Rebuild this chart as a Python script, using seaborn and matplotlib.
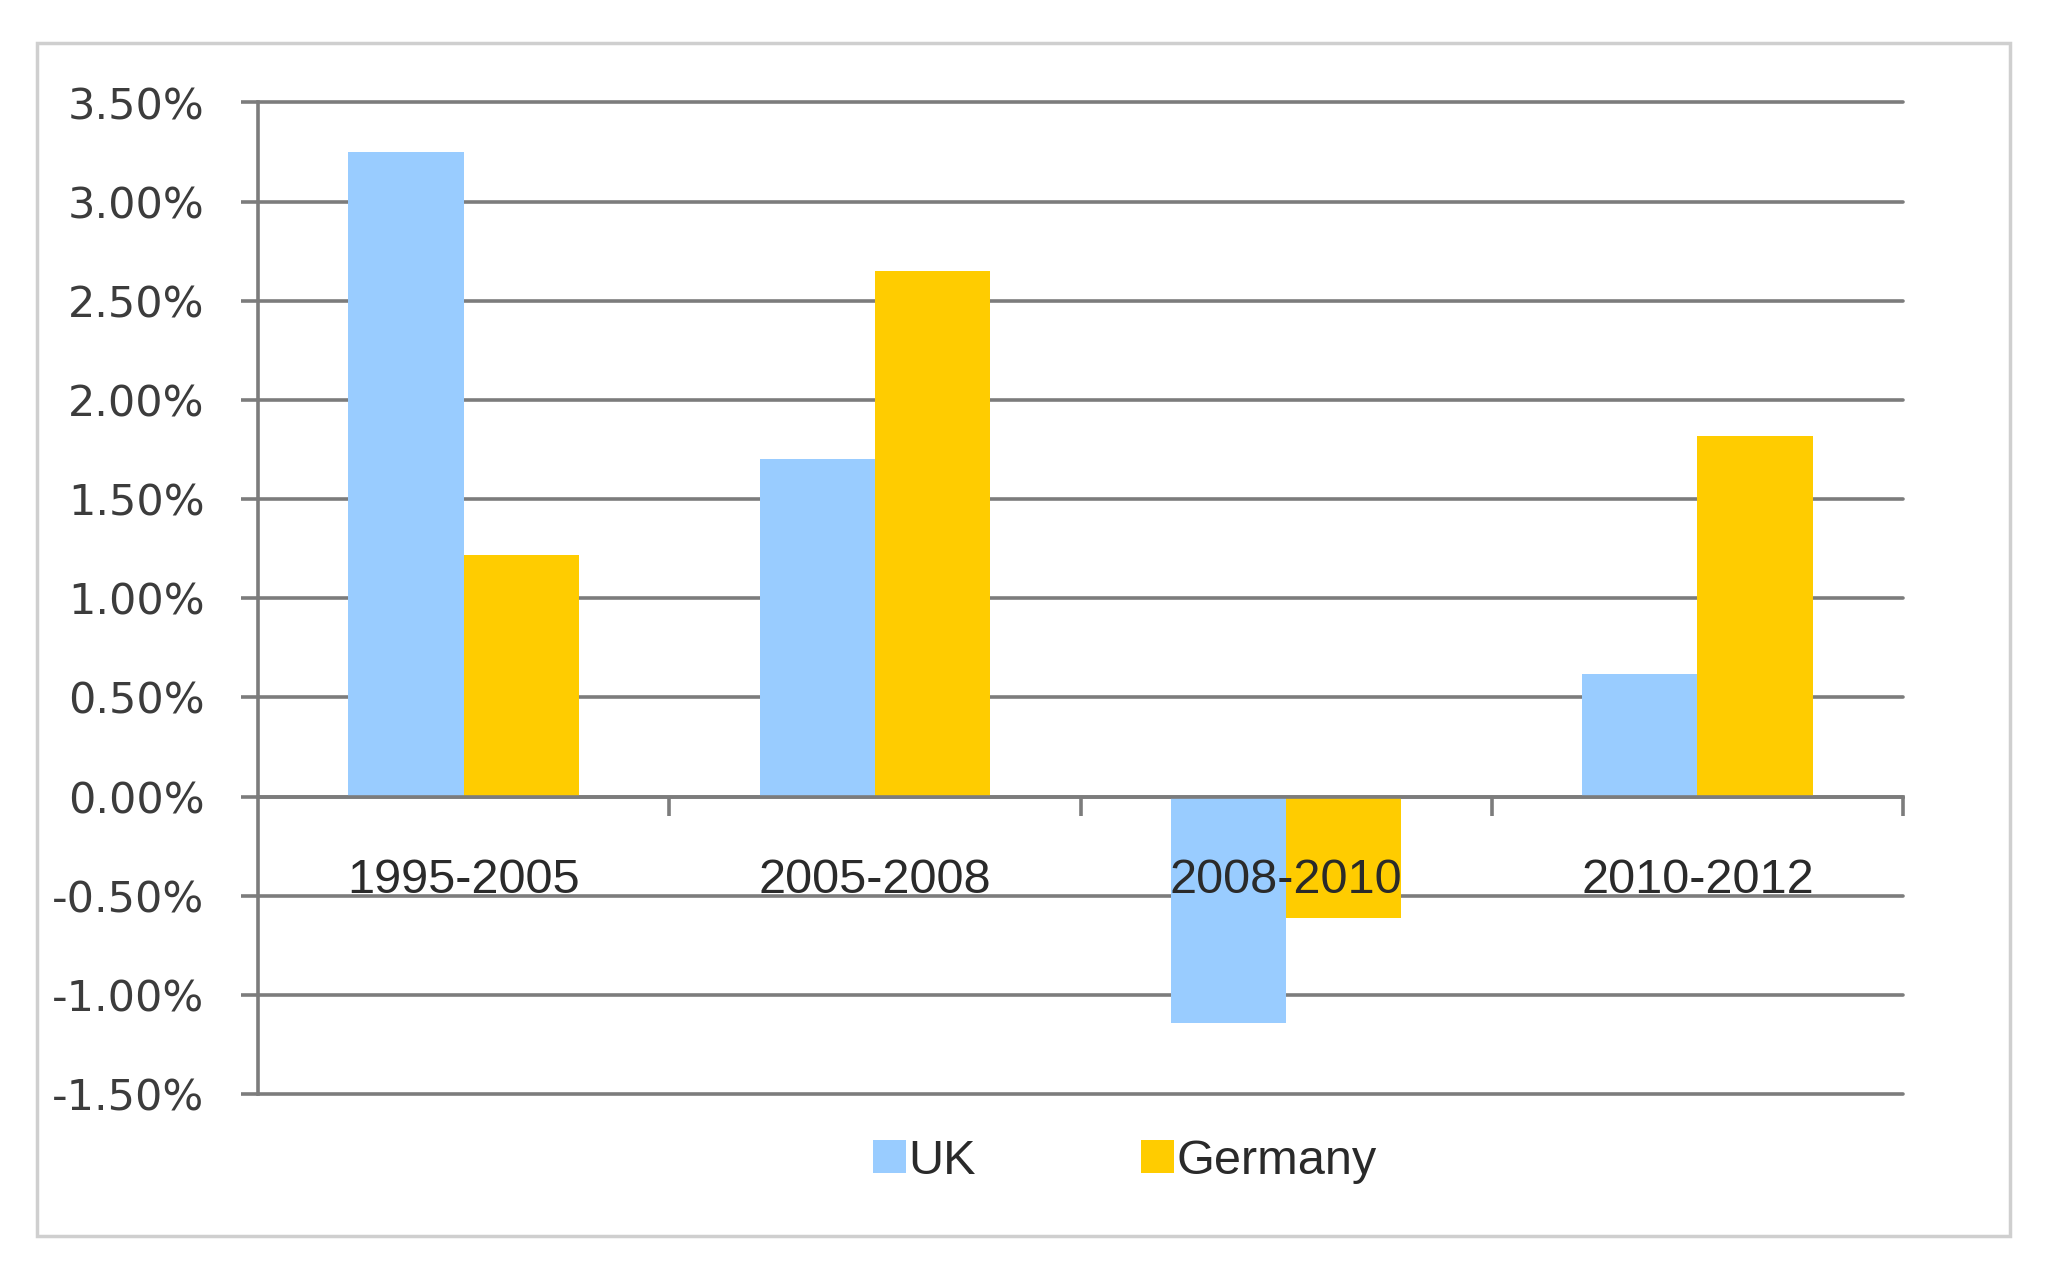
import matplotlib
matplotlib.use("Agg")
import matplotlib.pyplot as plt
import matplotlib.ticker as mticker
from matplotlib.patches import Rectangle
import seaborn as sns
import pandas as pd

periods = ["1995-2005", "2005-2008", "2008-2010", "2010-2012"]
uk_values = [3.25, 1.70, -1.14, 0.62]
germany_values = [1.22, 2.65, -0.61, 1.82]
series_names = ["UK", "Germany"]
y_ticks = [-1.5, -1.0, -0.5, 0.0, 0.5, 1.0, 1.5, 2.0, 2.5, 3.0, 3.5]

df = pd.DataFrame({
    "period": periods * 2,
    "country": [series_names[0]] * len(periods) + [series_names[1]] * len(periods),
    "value": uk_values + germany_values,
})

sns.set_style("white")
plt.rcParams["font.family"] = ["Liberation Sans", "DejaVu Sans"]

W, H = 2054, 1279
fig = plt.figure(figsize=(W / 100, H / 100), dpi=100)
left, right, top, bottom = 258, 1903, 102.5, 1094
ax = fig.add_axes([left / W, 1 - bottom / H, (right - left) / W, (bottom - top) / H])

grid_c = "#7c7c7c"
grid_lw = 2.6
ax.set_axisbelow(True)
for yv in y_ticks:
    ax.axhline(yv, color=grid_c, lw=grid_lw, zorder=0, clip_on=False)

sns.barplot(data=df, x="period", y="value", hue="country",
            palette=["#99CCFF", "#FFCC00"], width=0.56, saturation=1,
            ax=ax, zorder=2, linewidth=0)

ax.set_xlim(-0.5, 3.5)
ax.set_ylim(-1.5, 3.5)
ax.set_xlabel("")
ax.set_ylabel("")

for s in ["top", "right"]:
    ax.spines[s].set_visible(False)
ax.spines["left"].set_color(grid_c)
ax.spines["left"].set_linewidth(grid_lw)
ax.spines["bottom"].set_position(("data", 0))
ax.spines["bottom"].set_color(grid_c)
ax.spines["bottom"].set_linewidth(grid_lw)
ax.spines["bottom"].set_zorder(3)

ax.set_yticks(y_ticks)
ax.yaxis.set_major_formatter(mticker.FuncFormatter(lambda v, p: f"{v:.2f}%"))
ax.tick_params(axis="y", which="major", direction="out", length=12.5, width=grid_lw,
               color=grid_c, pad=26, labelsize=31, labelcolor="#3c3c3c", left=True)
for lab in ax.get_yticklabels():
    lab.set_fontfamily("DejaVu Sans")

ax.set_xticks([0.5, 1.5, 2.5, 3.5])
ax.xaxis.set_major_formatter(mticker.NullFormatter())
ax.set_xticks(range(len(periods)), minor=True)
ax.set_xticklabels(periods, minor=True)
ax.tick_params(axis="x", which="major", direction="out", length=14, width=grid_lw,
               color=grid_c, bottom=True)
ax.tick_params(axis="x", which="minor", length=0, pad=44, labelsize=35,
               labelcolor="#2a2a2a", bottom=True)
ax.xaxis.set_zorder(5)

handles, labels = ax.get_legend_handles_labels()
if ax.get_legend() is not None:
    ax.get_legend().remove()
fig.legend(handles, labels, loc="center", bbox_to_anchor=(1125 / W, 1 - 1161 / H),
           ncol=2, frameon=False, fontsize=35, handlelength=0.67, handleheight=0.67,
           handletextpad=0.05, columnspacing=3.4, labelcolor="#2a2a2a")

fig.patches.append(Rectangle((37 / W, 1 - 1236 / H), (2010 - 37) / W, (1236 - 43) / H,
                             transform=fig.transFigure, fill=False,
                             ec="#cfcfcf", lw=2.5, zorder=10))

fig.savefig("out.png", dpi=100, facecolor="white")
